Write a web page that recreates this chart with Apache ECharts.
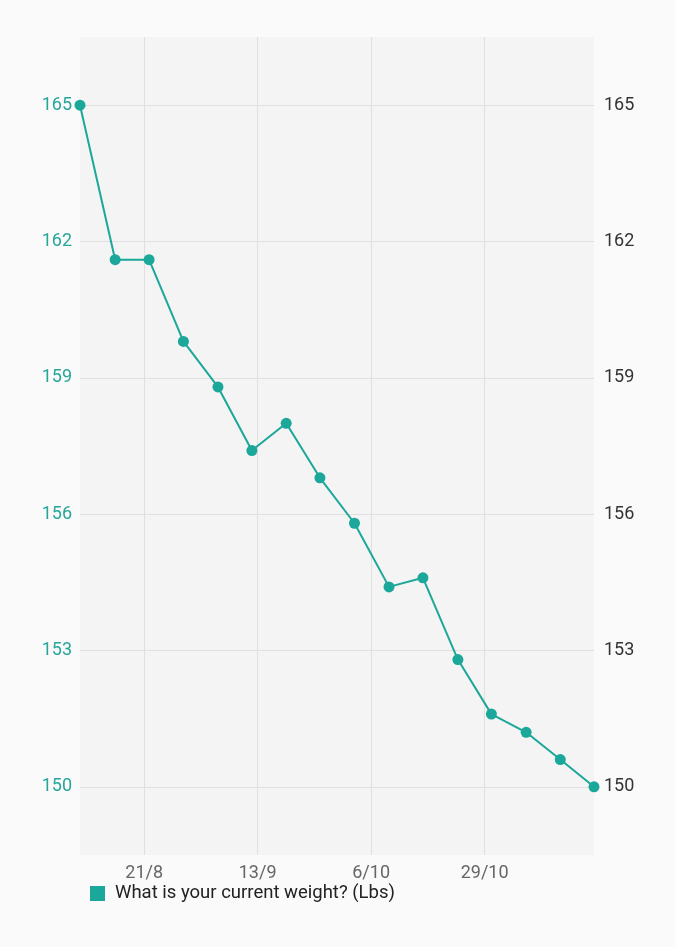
<!DOCTYPE html>
<html>
<head>
<meta charset="utf-8">
<script src="https://cdn.jsdelivr.net/npm/echarts@6/dist/echarts.min.js"></script>
<style>
html,body{margin:0;padding:0;background:#fafafa;}
#chart{width:675px;height:947px;}
</style>
</head>
<body>
<div id="chart"></div>
<script>
const dates = ['2019-08-08 00:00','2019-08-15 03:00','2019-08-22 00:00','2019-08-28 23:00','2019-09-04 23:00','2019-09-11 20:00','2019-09-18 19:00','2019-09-25 15:00','2019-10-02 15:00','2019-10-09 15:00','2019-10-16 12:00','2019-10-23 14:00','2019-10-30 09:00','2019-11-06 10:00','2019-11-13 08:00','2019-11-20 04:00'];
const weights = [165, 161.6, 161.6, 159.8, 158.8, 157.4, 158.0, 156.8, 155.8, 154.4, 154.6, 152.8, 151.6, 151.2, 150.6, 150];
const xTickDates = ['2019-08-21','2019-09-13','2019-10-06','2019-10-29'];
const yTicks = [150, 153, 156, 159, 162, 165];
const seriesName = 'What is your current weight? (Lbs)';

const toTs = s => echarts.time.parse(s).getTime();
const xTicks = xTickDates.map(toTs);
const data = dates.map((d, i) => [toTs(d), weights[i]]);
const font = 'Roboto, "Noto Sans", sans-serif';
const teal = '#1ba799';

const chart = echarts.init(document.getElementById('chart'), null, {renderer: 'canvas'});
chart.setOption({
  backgroundColor: '#fafafa',
  animation: false,
  grid: {left: 80, right: 81, top: 37, bottom: 92, show: true, backgroundColor: '#f4f4f4', borderWidth: 0},
  legend: {
    left: 85, top: 879, icon: 'rect', itemWidth: 15, itemHeight: 15,
    textStyle: {fontFamily: font, fontSize: 18.5, color: '#222', padding: [0, 0, 0, 5]},
    data: [seriesName]
  },
  xAxis: {
    type: 'value',
    min: data[0][0], max: data[data.length - 1][0],
    axisLine: {show: false}, axisTick: {show: false, customValues: xTicks},
    splitLine: {show: true, lineStyle: {color: '#e0e0e0', width: 1}},
    axisLabel: {
      customValues: xTicks, margin: 9, fontFamily: font, fontSize: 18, color: '#666',
      formatter: v => { const d = new Date(v); return d.getDate() + '/' + (d.getMonth() + 1); }
    }
  },
  yAxis: [
    {
      type: 'value', position: 'left', min: 148.5, max: 166.5,
      axisLine: {show: false}, axisTick: {show: false, customValues: yTicks},
      splitLine: {show: true, lineStyle: {color: '#e0e0e0', width: 1}},
      axisLabel: {customValues: yTicks, margin: 8, fontFamily: font, fontSize: 18, color: '#26a69a'}
    },
    {
      type: 'value', position: 'right', min: 148.5, max: 166.5,
      axisLine: {show: false}, axisTick: {show: false, customValues: yTicks},
      splitLine: {show: false},
      axisLabel: {customValues: yTicks, margin: 10, fontFamily: font, fontSize: 18, color: '#333'}
    }
  ],
  series: [{
    name: seriesName, type: 'line', data: data,
    symbol: 'circle', symbolSize: 11, showSymbol: true,
    itemStyle: {color: teal}, lineStyle: {color: teal, width: 2}
  }]
});
</script>
</body>
</html>
